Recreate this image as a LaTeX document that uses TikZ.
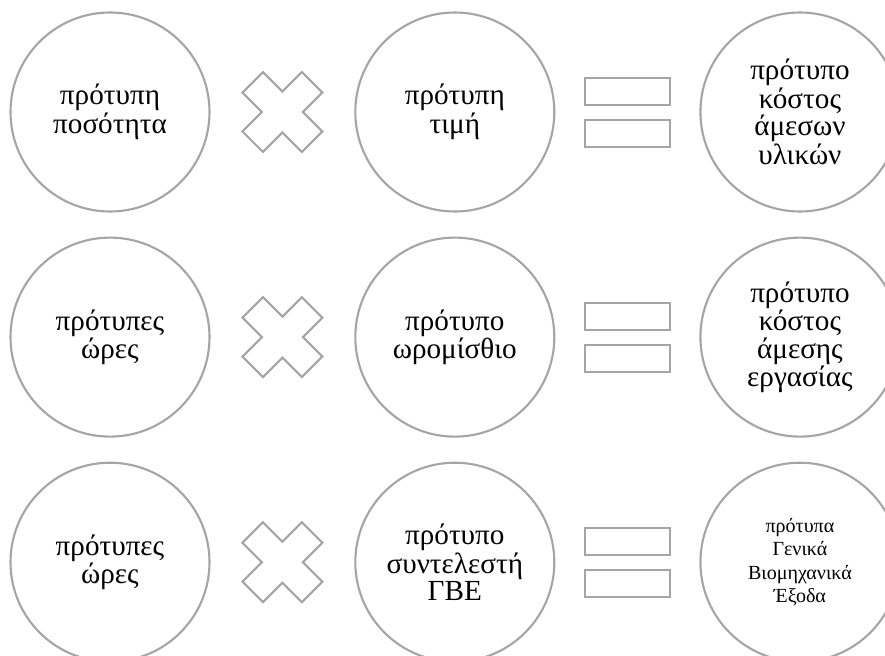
\documentclass[tikz,border=0pt]{standalone}
\usepackage{fontspec}
\setmainfont{Liberation Serif}
\usetikzlibrary{positioning}
\definecolor{ringGray}{HTML}{A5A5A5}

\begin{document}
\begin{tikzpicture}[
    disc/.style={circle, draw=ringGray, line width=1.2pt, minimum size=3.98cm,
                 inner sep=0pt, align=center, font=\fontsize{16.6}{13.4}\selectfont},
    timesmark/.style={minimum size=1.62cm, inner sep=0pt},
    eqbar/.style={rectangle, draw=ringGray, line width=1.2pt, minimum width=1.7cm,
                  minimum height=0.54cm, inner sep=0pt},
    markline/.style={draw=ringGray, line width=1.2pt, line join=miter}]
    \useasboundingbox (-2.2,2.24) rectangle (15.5,-10.86);
    \clip (-2.2,2.24) rectangle (15.5,-10.86);
    % row 1: direct materials
    \node[disc] (qty1) at (0,0) {πρότυπη\\ποσότητα};
    \node[timesmark, right=0.62cm of qty1] (x1) {};
    \node[disc, right=0.62cm of x1] (price1) {πρότυπη\\τιμή};
    \node[eqbar, right=0.58cm of price1, yshift=0.41cm] (eqa1) {};
    \node[eqbar, below=0.26cm of eqa1] (eqb1) {};
    \node[disc, right=2.88cm of price1] (cost1) {πρότυπο\\κόστος\\άμεσων\\υλικών};
    % row 2: direct labour
    \node[disc, below=0.48cm of qty1] (qty2) {πρότυπες\\ώρες};
    \node[timesmark, right=0.62cm of qty2] (x2) {};
    \node[disc, right=0.62cm of x2] (price2) {πρότυπο\\ωρομίσθιο};
    \node[eqbar, right=0.58cm of price2, yshift=0.41cm] (eqa2) {};
    \node[eqbar, below=0.26cm of eqa2] (eqb2) {};
    \node[disc, right=2.88cm of price2] (cost2) {πρότυπο\\κόστος\\άμεσης\\εργασίας};
    % row 3: overheads
    \node[disc, below=0.48cm of qty2] (qty3) {πρότυπες\\ώρες};
    \node[timesmark, right=0.62cm of qty3] (x3) {};
    \node[disc, right=0.62cm of x3] (price3) {πρότυπο\\συντελεστή\\ΓΒΕ};
    \node[eqbar, right=0.58cm of price3, yshift=0.41cm] (eqa3) {};
    \node[eqbar, below=0.26cm of eqa3] (eqb3) {};
    \node[disc, right=2.88cm of price3, font=\fontsize{11.4}{13.4}\selectfont] (cost3)
      {πρότυπα\\Γενικά\\Βιομηχανικά\\Έξοδα};
    % the multiplication signs
    \foreach \m in {x1,x2,x3}
      \draw[markline, shift={(\m.center)}, rotate=45]
        (0.29,0.29) -- (0.29,0.84) -- (-0.29,0.84) -- (-0.29,0.29) -- (-0.84,0.29)
        -- (-0.84,-0.29) -- (-0.29,-0.29) -- (-0.29,-0.84) -- (0.29,-0.84)
        -- (0.29,-0.29) -- (0.84,-0.29) -- (0.84,0.29) -- cycle;
\end{tikzpicture}
\end{document}
